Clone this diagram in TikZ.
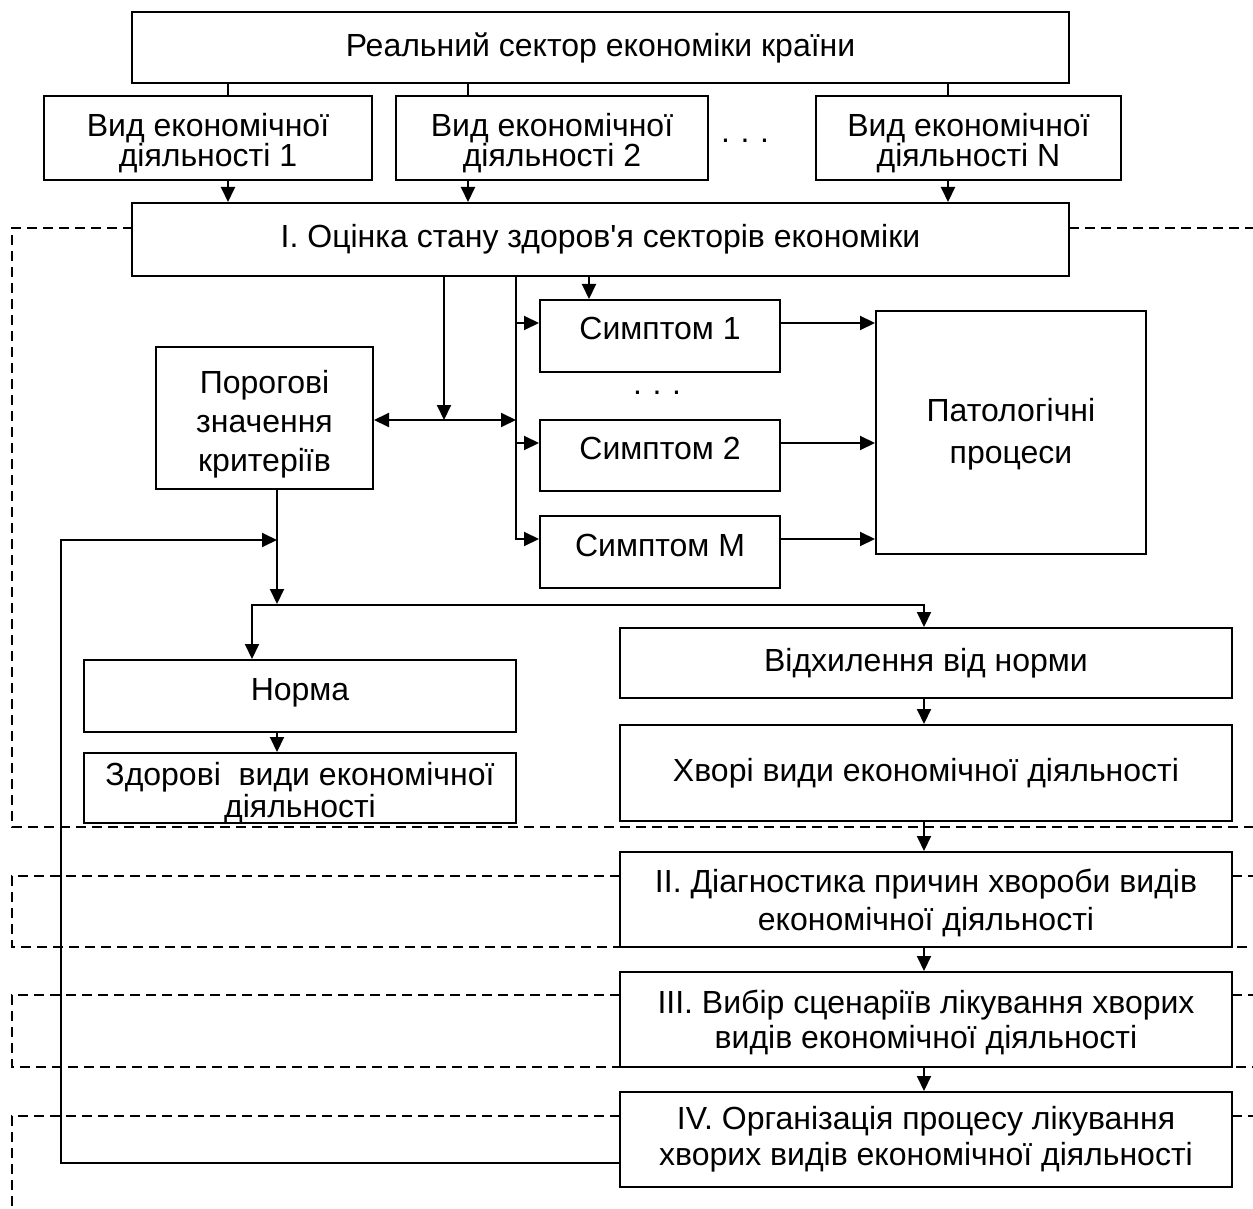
\documentclass[tikz,border=0pt]{standalone}
\usepackage{fontspec}
\setmainfont{Liberation Sans}
\usetikzlibrary{arrows.meta}
\begin{document}
\begin{tikzpicture}[x=0.5pt,y=-0.5pt,
  box/.style={draw, line width=1pt, fill=white, inner sep=0pt, align=center,
              font=\fontsize{16}{15}\selectfont},
  txt/.style={inner sep=0pt, align=center, font=\fontsize{16}{15}\selectfont},
  bskip/.style={font=\fontsize{16}{#1}\selectfont},
  ln/.style={line width=1pt},
  arr/.style={line width=1pt, -{Triangle[length=7.5pt,width=7pt]}},
  dbl/.style={line width=1pt, {Triangle[length=7.5pt,width=7pt]}-{Triangle[length=7.5pt,width=7pt]}},
  zone/.style={line width=1pt, dash pattern=on 5pt off 3pt},
]
\useasboundingbox (0,0) rectangle (1253,1209);

% helper coordinates for connector columns and rows
\coordinate (c1) at (228,0);
\coordinate (c2) at (468,0);
\coordinate (cN) at (948,0);
\coordinate (cs) at (589,0);
\coordinate (tr) at (516,0);
\coordinate (tq) at (444,420);
\coordinate (r1) at (0,323);
\coordinate (r2) at (0,443);
\coordinate (rM) at (0,539);
\coordinate (pv) at (277,605);
\coordinate (bl) at (252,605);
\coordinate (br) at (924,605);
\coordinate (fb) at (61,1163);
\coordinate (fe) at (277,540);

% stage frames (dashed)
\draw[zone] (133,228) -- (12,228) -- (12,827) -- (1253,827);
\draw[zone] (1069,228) -- (1253,228);
\draw[zone] (620,876) -- (12,876) -- (12,947) -- (1253,947);
\draw[zone] (1232,876) -- (1253,876);
\draw[zone] (620,995) -- (12,995) -- (12,1067) -- (1253,1067);
\draw[zone] (1232,995) -- (1253,995);
\draw[zone] (620,1116) -- (12,1116) -- (12,1209);
\draw[zone] (1232,1116) -- (1253,1116);

% boxes
\node[box, minimum width=468.5pt, minimum height=35.5pt] (top) at (600.5,47.5)
  {Реальний сектор економіки країни};

\node[box, minimum width=164pt, minimum height=42pt] (vid1) at (208,138) {};
\node[txt] (vid1t) at ([yshift=-2.5pt]vid1.center) {Вид економічної\\діяльності 1};
\node[box, minimum width=156pt, minimum height=42pt] (vid2) at (552,138) {};
\node[txt] (vid2t) at ([yshift=-2.5pt]vid2.center) {Вид економічної\\діяльності 2};
\node[box, minimum width=152.5pt, minimum height=42pt] (vidN) at (968.5,138) {};
\node[txt] (vidNt) at ([yshift=-2.5pt]vidN.center) {Вид економічної\\діяльності N};
\node[txt] (dots1) at (745,141) {.\,\,.\,\,.};

\node[box, minimum width=468.5pt, minimum height=36.5pt] (boxI) at (600.5,239.5)
  {І. Оцінка стану здоров\textquotesingle я секторів економіки};

\node[box, minimum width=108.5pt, minimum height=71pt] (poro) at (264.5,418) {};
\node[txt, bskip=19.5pt] (porot) at ([yshift=-3pt]poro.center)
  {Порогові\\значення\\критеріїв};

\node[box, minimum width=120pt, minimum height=36pt] (s1) at (660,336) {};
\node[txt] (s1t) at (660,328) {Симптом 1};
\node[txt] (dots2) at (657,393) {.\,\,.\,\,.};
\node[box, minimum width=120pt, minimum height=35.5pt] (s2) at (660,455.5) {};
\node[txt] (s2t) at (660,448) {Симптом 2};
\node[box, minimum width=120pt, minimum height=36pt] (sm) at (660,552) {};
\node[txt] (smt) at (660,545) {Симптом М};

\node[box, bskip=21pt, minimum width=135pt, minimum height=121.5pt] (patol) at (1011,432.5) {};
\node[txt, bskip=21pt] (patolt) at ([yshift=-1pt]patol.center) {Патологічні\\процеси};

\node[box, minimum width=216pt, minimum height=36pt] (norma) at (300,696) {};
\node[txt] (normat) at (300,693) {Норма};
\node[box, minimum width=216pt, minimum height=35pt] (zdor) at (300,788) {};
\node[txt, bskip=16pt] (zdort) at ([yshift=-2.5pt]zdor.center)
  {Здорові\ \ види економічної\\діяльності};

\node[box, minimum width=306pt, minimum height=35pt] (vidh) at (926,663)
  {Відхилення від норми};
\node[box, minimum width=306pt, minimum height=48pt] (khv) at (926,773)
  {Хворі види економічної діяльності};

\node[box, minimum width=306pt, minimum height=47.5pt] (st2) at (926,899.5) {};
\node[txt, bskip=19pt] (st2t) at ([yshift=-1.5pt]st2.center)
  {ІІ. Діагностика причин хвороби видів\\економічної діяльності};
\node[box, minimum width=306pt, minimum height=47.5pt] (st3) at (926,1019.5) {};
\node[txt, bskip=17.5pt] (st3t) at ([yshift=-1.5pt]st3.center)
  {ІІІ. Вибір сценаріїв лікування хворих\\видів економічної діяльності};
\node[box, bskip=18pt, minimum width=306pt, minimum height=47.5pt] (st4) at (926,1139.5)
  {IV. Організація процесу лікування\\хворих видів економічної діяльності};

% connectors: sector to kinds of activity
\draw[ln] (top.south -| c1) -- (vid1.north -| c1);
\draw[ln] (top.south -| c2) -- (vid2.north -| c2);
\draw[ln] (top.south -| cN) -- (vidN.north -| cN);
\draw[arr] (vid1.south -| c1) -- (boxI.north -| c1);
\draw[arr] (vid2.south -| c2) -- (boxI.north -| c2);
\draw[arr] (vidN.south -| cN) -- (boxI.north -| cN);

% assessment to symptoms and thresholds
\draw[arr] (boxI.south -| cs) -- (s1.north -| cs);
\draw[arr] (boxI.south -| tr) |- (sm.west |- rM);
\draw[arr] (tr |- r1) -- (s1.west |- r1);
\draw[arr] (tr |- r2) -- (s2.west |- r2);
\draw[arr] (boxI.south -| tq) -- (tq);
\draw[dbl] (poro.east |- tq) -- (tr |- tq);

% symptoms to pathological processes
\draw[arr] (s1.east |- r1) -- (patol.west |- r1);
\draw[arr] (s2.east |- r2) -- (patol.west |- r2);
\draw[arr] (sm.east |- rM) -- (patol.west |- rM);

% thresholds to norm / deviation
\draw[arr] (poro.south -| pv) -- ([yshift=0.5pt]pv);
\draw[arr] (pv) -| (norma.north -| bl);
\draw[arr] (pv) -| (vidh.north -| br);
\draw[arr] (norma.south -| pv) -- (zdor.north -| pv);
\draw[arr] (vidh.south -| br) -- (khv.north -| br);

% stages
\draw[arr] (khv.south -| br) -- (st2.north -| br);
\draw[arr] (st2.south -| br) -- (st3.north -| br);
\draw[arr] (st3.south -| br) -- (st4.north -| br);

% feedback from treatment
\draw[arr] (st4.west |- fb) -- (fb) |- (fe);
\end{tikzpicture}
\end{document}
